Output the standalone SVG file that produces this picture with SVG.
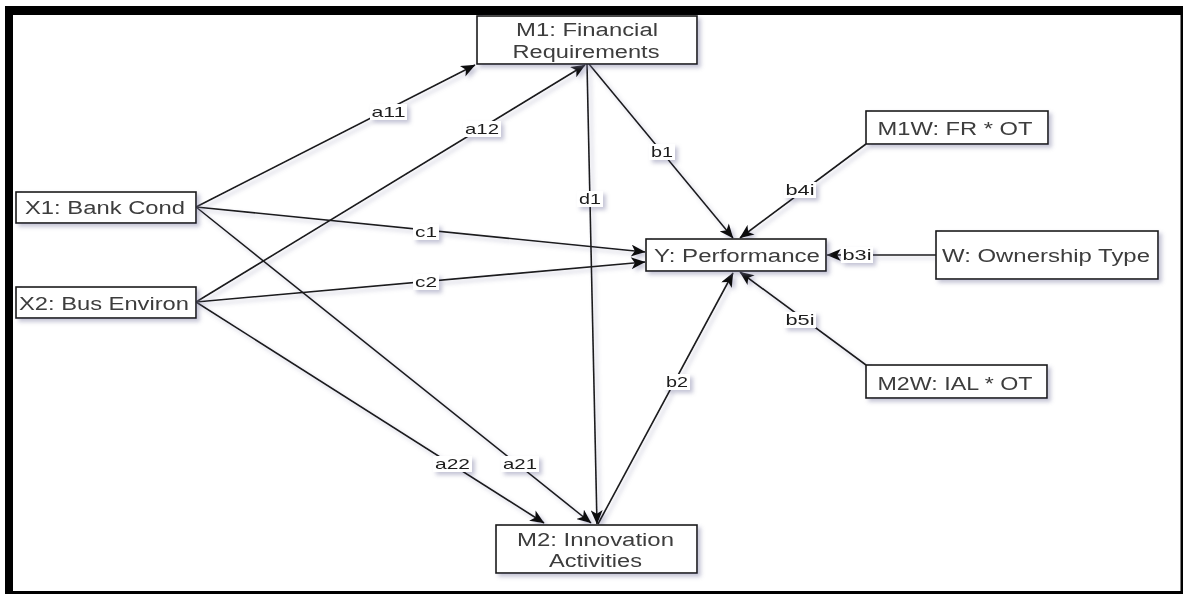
<svg xmlns="http://www.w3.org/2000/svg" width="1185" height="595" viewBox="0 0 1185 595">
  <defs>
    <style>
      .box { fill: #ffffff; stroke: #1a1a1a; stroke-width: 1.6; }
      .ntext { font-family: "Liberation Sans", Arial, sans-serif; font-size: 18px; fill: #3c3c3c; text-anchor: middle; }
      .edge { fill: none; stroke: #1a1a1a; stroke-width: 1.6; marker-end: url(#arrow); }
      .lbg { fill: #ffffff; }
      .ltext { font-family: "Liberation Sans", Arial, sans-serif; font-size: 15px; fill: #1e1e1e; text-anchor: middle; }
    </style>
    <marker id="arrow" viewBox="0 0 12 10" refX="11.5" refY="5" markerWidth="15" markerHeight="12" markerUnits="userSpaceOnUse" orient="auto">
      <path d="M0,0 L12,5 L0,10 L3,5 Z" fill="#111111"/>
    </marker>
    <filter id="shadow" x="-10%" y="-10%" width="130%" height="140%">
      <feDropShadow dx="3" dy="3" stdDeviation="2" flood-color="#7a7aa0" flood-opacity="0.45"/>
    </filter>
  </defs>

  <!-- page background and frame -->
  <rect x="0" y="0" width="1185" height="595" fill="#ffffff"/>
  <path d="M5,6 H1183 V594 H5 Z M13,15 V591 H1180.5 V15 Z" fill="#000000" fill-rule="evenodd"/>

  <!-- connectors -->
  <g id="connectors" filter="url(#shadow)">
    <line class="edge" x1="196" y1="207" x2="475" y2="65"/>
    <line class="edge" x1="196" y1="302" x2="585" y2="65"/>
    <line class="edge" x1="587" y1="64" x2="597" y2="524"/>
    <line class="edge" x1="589" y1="64" x2="733" y2="238"/>
    <line class="edge" x1="866" y1="144" x2="740" y2="238"/>
    <line class="edge" x1="936" y1="255" x2="827" y2="255"/>
    <line class="edge" x1="866" y1="365" x2="740" y2="272"/>
    <line class="edge" x1="598" y1="524" x2="733" y2="273"/>
    <line class="edge" x1="196" y1="207" x2="645" y2="252"/>
    <line class="edge" x1="196" y1="302" x2="645" y2="262"/>
    <line class="edge" x1="196" y1="207" x2="591" y2="523"/>
    <line class="edge" x1="196" y1="302" x2="544" y2="523"/>

    <!-- path labels -->
    <g id="lbl-a11"><rect class="lbg" x="370" y="104" width="37" height="16"/><text class="ltext" x="388.5" y="117" textLength="34" lengthAdjust="spacingAndGlyphs">a11</text></g>
    <g id="lbl-a12"><rect class="lbg" x="463" y="121" width="38" height="16"/><text class="ltext" x="482" y="134" textLength="34" lengthAdjust="spacingAndGlyphs">a12</text></g>
    <g id="lbl-d1"><rect class="lbg" x="577" y="191" width="26" height="16"/><text class="ltext" x="590" y="204" textLength="22" lengthAdjust="spacingAndGlyphs">d1</text></g>
    <g id="lbl-b1"><rect class="lbg" x="649" y="144" width="26" height="16"/><text class="ltext" x="662" y="157" textLength="22" lengthAdjust="spacingAndGlyphs">b1</text></g>
    <g id="lbl-c1"><rect class="lbg" x="413" y="224" width="26" height="16"/><text class="ltext" x="426" y="237" textLength="22" lengthAdjust="spacingAndGlyphs">c1</text></g>
    <g id="lbl-c2"><rect class="lbg" x="413" y="274" width="26" height="16"/><text class="ltext" x="426" y="287" textLength="22" lengthAdjust="spacingAndGlyphs">c2</text></g>
    <g id="lbl-b4i"><rect class="lbg" x="784" y="182" width="32" height="16"/><text class="ltext" x="800" y="195" textLength="29" lengthAdjust="spacingAndGlyphs">b4i</text></g>
    <g id="lbl-b3i"><rect class="lbg" x="841" y="247" width="32" height="16"/><text class="ltext" x="857" y="260" textLength="29" lengthAdjust="spacingAndGlyphs">b3i</text></g>
    <g id="lbl-b5i"><rect class="lbg" x="784" y="312" width="32" height="16"/><text class="ltext" x="800" y="325" textLength="29" lengthAdjust="spacingAndGlyphs">b5i</text></g>
    <g id="lbl-b2"><rect class="lbg" x="664" y="374" width="26" height="16"/><text class="ltext" x="677" y="387" textLength="22" lengthAdjust="spacingAndGlyphs">b2</text></g>
    <g id="lbl-a22"><rect class="lbg" x="433" y="456" width="39" height="16"/><text class="ltext" x="452.5" y="469" textLength="35" lengthAdjust="spacingAndGlyphs">a22</text></g>
    <g id="lbl-a21"><rect class="lbg" x="501" y="456" width="38" height="16"/><text class="ltext" x="520" y="469" textLength="34" lengthAdjust="spacingAndGlyphs">a21</text></g>
  </g>

  <!-- nodes -->
  <g id="node-m1" filter="url(#shadow)">
    <rect class="box" x="477" y="16" width="220" height="48"/>
    <text class="ntext" x="587" y="36" textLength="142" lengthAdjust="spacingAndGlyphs">M1: Financial</text>
    <text class="ntext" x="586" y="58" textLength="147" lengthAdjust="spacingAndGlyphs">Requirements</text>
  </g>
  <g id="node-x1" filter="url(#shadow)">
    <rect class="box" x="16" y="192" width="180" height="31"/>
    <text class="ntext" x="105" y="214" textLength="160" lengthAdjust="spacingAndGlyphs">X1: Bank Cond</text>
  </g>
  <g id="node-x2" filter="url(#shadow)">
    <rect class="box" x="16" y="287" width="180" height="31"/>
    <text class="ntext" x="104" y="310" textLength="170" lengthAdjust="spacingAndGlyphs">X2: Bus Environ</text>
  </g>
  <g id="node-y" filter="url(#shadow)">
    <rect class="box" x="646" y="239" width="180" height="32"/>
    <text class="ntext" x="737" y="262" textLength="166" lengthAdjust="spacingAndGlyphs">Y: Performance</text>
  </g>
  <g id="node-w" filter="url(#shadow)">
    <rect class="box" x="936" y="231" width="222" height="48"/>
    <text class="ntext" x="1046" y="262" textLength="208" lengthAdjust="spacingAndGlyphs">W: Ownership Type</text>
  </g>
  <g id="node-m1w" filter="url(#shadow)">
    <rect class="box" x="866" y="111" width="182" height="33"/>
    <text class="ntext" x="955" y="135" textLength="155" lengthAdjust="spacingAndGlyphs">M1W: FR * OT</text>
  </g>
  <g id="node-m2w" filter="url(#shadow)">
    <rect class="box" x="866" y="365" width="181" height="33"/>
    <text class="ntext" x="955" y="390" textLength="155" lengthAdjust="spacingAndGlyphs">M2W: IAL * OT</text>
  </g>
  <g id="node-m2" filter="url(#shadow)">
    <rect class="box" x="496" y="525" width="201" height="48"/>
    <text class="ntext" x="595.5" y="546" textLength="157" lengthAdjust="spacingAndGlyphs">M2: Innovation</text>
    <text class="ntext" x="595.5" y="567" textLength="93" lengthAdjust="spacingAndGlyphs">Activities</text>
  </g>
</svg>
